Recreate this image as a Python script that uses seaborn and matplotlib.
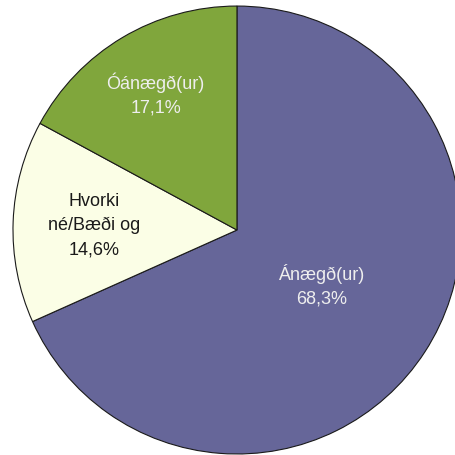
import numpy as np
import matplotlib
matplotlib.use("Agg")
import matplotlib.pyplot as plt
import seaborn as sns

# answers, clockwise from the top
labels = ['Ánægð(ur)', 'Hvorki\nné/Bæði og', 'Óánægð(ur)']
shares = [68.3, 14.6, 17.1]
pct_text = ['68,3%', '14,6%', '17,1%']
colors = ['#666699', '#FBFEE6', '#80A63C']
text_colors = ['#EEEEEE', '#1A1A1A', '#EEEEEE']
label_radius = [0.45, 0.64, 0.71]

sns.set_theme(style="white")
plt.rcParams['font.family'] = ['Liberation Sans Narrow', 'Liberation Sans', 'DejaVu Sans']

fig = plt.figure(figsize=(4.56, 4.56), dpi=100)
ax = fig.add_axes([0, 0, 1, 1])

wedges, _ = ax.pie(shares, colors=colors, startangle=90, counterclock=False,
                   wedgeprops=dict(edgecolor='#1A1A1A', linewidth=0.8))

for w, lab, pct, tc, r in zip(wedges, labels, pct_text, text_colors, label_radius):
    mid = np.deg2rad((w.theta1 + w.theta2) / 2)
    ax.text(r * np.cos(mid), r * np.sin(mid), lab + '\n' + pct,
            ha='center', va='center', fontsize=13, color=tc, linespacing=1.55)

ax.set_xlim(-1.058, 0.978)
ax.set_ylim(-1.004, 1.031)
ax.axis('off')

fig.savefig('out.png', dpi=100, facecolor='white')
